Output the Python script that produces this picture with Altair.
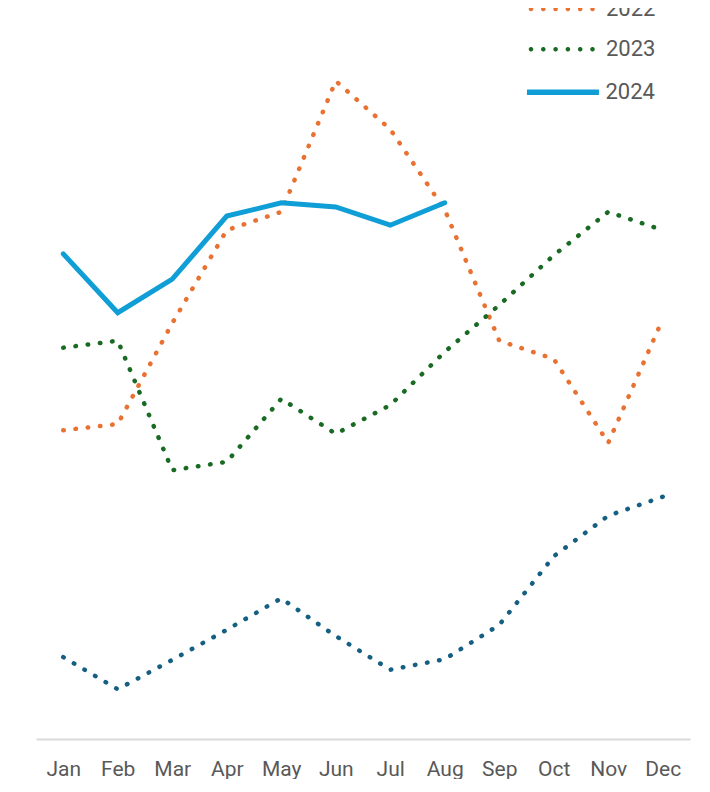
import math
import altair as alt
import pandas as pd

months = ["Jan", "Feb", "Mar", "Apr", "May", "Jun", "Jul", "Aug", "Sep", "Oct", "Nov", "Dec"]
years = ["2021", "2022", "2023", "2024"]
v2021 = [11.7, 7.1, 11.3, 15.6, 20.1, 14.7, 9.9, 11.4, 16.3, 26.1, 31.9, 34.6]
v2022 = [44.1, 45.0, 59.4, 72.7, 75.3, 94.0, 87.1, 75.6, 56.9, 54.3, 42.3, 60.0]
v2023 = [55.9, 56.9, 38.4, 39.6, 48.6, 43.6, 47.7, 55.3, 62.0, 69.1, 75.3, 72.7]
v2024 = [69.3, 60.9, 65.7, 74.7, 76.6, 76.0, 73.4, 76.6]
colors = ["#156082", "#E97132", "#196B24", "#0F9ED5"]

rows = []
for yr, vals in zip(years, [v2021, v2022, v2023, v2024]):
    for i, (m, v) in enumerate(zip(months, vals)):
        rows.append({"month": m, "idx": i, "year": yr, "value": v})
df = pd.DataFrame(rows)

FONT = "Roboto, sans-serif"

# legend symbol shapes (custom paths, unit = sqrt(size)/2 = 7px)
UNIT = 7.0
def poly_circle(cx, rad, n=14):
    pts = [(cx + rad * math.cos(2 * math.pi * k / n), rad * math.sin(2 * math.pi * k / n)) for k in range(n)]
    return "M" + " L".join(f"{x / UNIT:.4f},{y / UNIT:.4f}" for x, y in pts) + " Z"

dot_centers = [-33.7, -21.4, -9.1, 3.2, 15.5, 27.8]
dots_path = " ".join(poly_circle(c, 2.3) for c in dot_centers)
line_path = f"M{-36 / UNIT:.4f},0 L{36 / UNIT:.4f},0"

x_enc = alt.X("month:N", sort=months, scale=alt.Scale(type="point", padding=0.5),
              axis=alt.Axis(title=None, labelAngle=0, ticks=False, grid=False,
                            domainColor="#d9d9d9", domainWidth=2,
                            labelFont=FONT, labelFontSize=21, labelColor="#595959",
                            labelPadding=19))
y_enc = alt.Y("value:Q", scale=alt.Scale(domain=[0, 100], nice=False), axis=None)

legend_common = dict(title=None, orient="none", symbolSize=196,
                     labelFont=FONT, labelFontSize=22, labelColor="#595959", padding=0)
legend_centers = {"2021": -76.0, "2022": -30.0, "2023": 10.3, "2024": 53.3}

layers = []
for yr, col in zip(years[:3], colors[:3]):
    layers.append(
        alt.Chart(df).transform_filter(alt.datum.year == yr)
        .mark_line(strokeWidth=4.5, strokeCap="round", strokeDash=[0.5, 11.8], color=col)
        .encode(x=x_enc, y=y_enc, order=alt.Order("idx:Q"))
    )
layers.append(
    alt.Chart(df).transform_filter(alt.datum.year == "2024")
    .mark_line(strokeWidth=5, strokeCap="round", strokeJoin="miter")
    .encode(x=x_enc, y=y_enc, order=alt.Order("idx:Q"),
            color=alt.Color("year:N", scale=alt.Scale(domain=["2024"], range=[colors[3]]),
                            legend=alt.Legend(symbolType=line_path, symbolStrokeWidth=5.5,
                                              legendX=515.95, labelOffset=31.5,
                                              legendY=legend_centers["2024"] - 11, **legend_common)))
)
for yr, col in zip(years[:3], colors[:3]):
    layers.append(
        alt.Chart(df).transform_filter("false")
        .mark_point(filled=True, opacity=1)
        .encode(x=x_enc, y=y_enc,
                color=alt.Color("year:N", scale=alt.Scale(domain=[yr], range=[col]),
                                legend=alt.Legend(symbolType=dots_path, symbolStrokeWidth=0.01,
                                                  legendX=517.7, labelOffset=30.3,
                                                  legendY=legend_centers[yr] - 11, **legend_common)))
    )

chart = alt.layer(*layers).resolve_scale(color="independent").properties(
    width=654, height=700,
    autosize=alt.AutoSizeParams(type="none"),
    padding={"left": 28, "top": 31, "right": 4, "bottom": 40},
).configure_view(stroke=None)

chart.save("out.html", embed_options={"renderer": "svg", "actions": False})
